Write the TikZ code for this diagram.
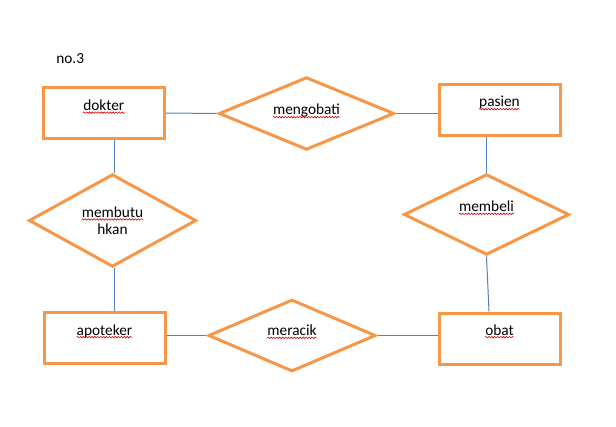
\documentclass[tikz,border=0pt]{standalone}
\usepackage{fontspec}
\setmainfont{Carlito}
\usetikzlibrary{shapes.geometric,decorations.pathmorphing,backgrounds,calc}
\definecolor{acc}{HTML}{F79646}
\definecolor{connc}{HTML}{4F81BD}
\tikzset{
  entity/.style={draw=acc, line width=2.25pt, rectangle, fill=white, inner sep=0pt,
                 minimum width=90.75pt, minimum height=38.25pt},
  rel/.style={draw=acc, line width=2.25pt, diamond, fill=white, inner sep=0pt},
  lbl/.style={font=\fontsize{11.5}{13.5}\selectfont, inner sep=0pt, anchor=base},
  conn/.style={draw=connc, line width=0.75pt},
  squig/.style={draw=red!85!black, line width=0.45pt, decorate,
                decoration={snake, segment length=2.2pt, amplitude=0.55pt}}
}
\newcommand{\squigunder}[1]{\draw[squig] ([yshift=-1.6pt]#1.base west) -- ([yshift=-1.6pt]#1.base east);}
\begin{document}
\begin{tikzpicture}[x=0.75pt,y=-0.75pt]
\useasboundingbox (0,0) rectangle (616,427);

% entities
\node[entity] (dokter)   at (103.75,113) {};
\node[entity] (pasien)   at (499.5,110.25) {};
\node[entity] (apoteker) at (104.5,338.4) {};
\node[entity] (obat)     at (499.5,338.5) {};

% relationships
\node[rel, minimum width=131.5pt, minimum height=54.5pt]  (mengobati)   at (306.5,113.5) {};
\node[rel, minimum width=125.5pt, minimum height=69.5pt]  (membutuhkan) at (112.5,220.5) {};
\node[rel, minimum width=124pt,   minimum height=60.5pt]  (membeli)     at (486.5,214.5) {};
\node[rel, minimum width=125.5pt, minimum height=54pt] (meracik)   at (292,335.5) {};

% labels
\node[lbl, anchor=base west] (no3) at (56,64) {no.3};
\node[lbl] (tdokter)    at (103.75,110.5) {dokter};
\node[lbl] (tpasien)    at (499.5,107) {pasien};
\node[lbl] (tmengobati) at (306.5,115) {mengobati};
\node[lbl] (tmembutu)   at (112.5,217.3) {membutu};
\node[lbl] (thkan)      at (112.5,235) {hkan};
\node[lbl] (tmembeli)   at (486.5,211.7) {membeli};
\node[lbl] (tapoteker)  at (104.5,335) {apoteker};
\node[lbl] (tmeracik)   at (292,335.7) {meracik};
\node[lbl] (tobat)      at (499.5,335) {obat};

% spell-check squiggles
\squigunder{tdokter}
\squigunder{tpasien}
\squigunder{tmengobati}
\squigunder{tmembutu}
\squigunder{tmembeli}
\squigunder{tapoteker}
\squigunder{tmeracik}
\squigunder{tobat}

% connectors
\begin{scope}[on background layer]
\draw[conn] (dokter.east) -- (mengobati.west);
\draw[conn] (mengobati.east) -- (mengobati.east -| pasien.west);
\draw[conn] ($(membutuhkan.north)+(1.5,0)$) -- ($(membutuhkan.north |- dokter.south)+(1.5,0)$);
\draw[conn] ($(membutuhkan.south)+(1.5,0)$) -- ($(membutuhkan.south |- apoteker.north)+(1.5,0)$);
\draw[conn] (meracik.west) -- (meracik.west -| apoteker.east);
\draw[conn] (meracik.east) -- (meracik.east -| obat.west);
\draw[conn] (membeli.north) -- (membeli.north |- pasien.south);
\draw[conn] (membeli.south) -- ($(obat.north)+(-10.5,0)$);
\end{scope}
\end{tikzpicture}
\end{document}
